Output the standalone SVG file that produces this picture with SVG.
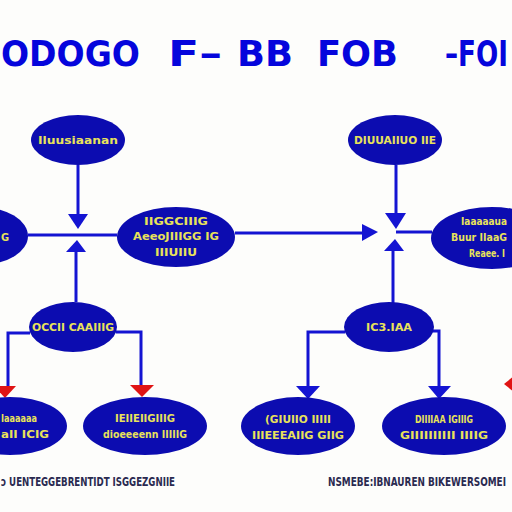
<svg xmlns="http://www.w3.org/2000/svg" width="512" height="512" viewBox="0 0 512 512">
<defs>
<style>
.bg{fill:#fdfdfb}
.node{fill:#0c0cb0}
.lbl{fill:#e8e25a;font-family:"DejaVu Sans Condensed","DejaVu Sans","Liberation Sans",sans-serif;font-weight:bold;font-size:11px;text-anchor:middle}
.st{text-anchor:start}
.title{fill:#0505dc;font-family:"DejaVu Sans","Liberation Sans",sans-serif;font-weight:bold;font-size:36px}
.foot{fill:#2a2a50;font-family:"DejaVu Sans Condensed","DejaVu Sans","Liberation Sans",sans-serif;font-weight:bold;font-size:12px}
.ln{stroke:#1414d2;stroke-width:3;fill:none}
.ah{fill:#1414d2}
.ahr{fill:#e01414}
</style>
</defs>
<rect class="bg" x="0" y="0" width="512" height="512"/>
<g id="title">
<text class="title" x="1" y="66" textLength="139" lengthAdjust="spacingAndGlyphs">ODOGO</text>
<text class="title" x="168" y="66" textLength="54" lengthAdjust="spacingAndGlyphs">F–</text>
<text class="title" x="237" y="66" textLength="56" lengthAdjust="spacingAndGlyphs">BB</text>
<text class="title" x="317" y="66" textLength="81" lengthAdjust="spacingAndGlyphs">FOB</text>
<text class="title" x="445" y="66" textLength="63" lengthAdjust="spacingAndGlyphs">–FOI</text>
</g>
<g id="connectors">
<path class="ln" d="M78 165 V222"/>
<polygon class="ah" points="68,214 88,214 78,229"/>
<path class="ln" d="M28 235 H117"/>
<path class="ln" d="M76 302 V248"/>
<polygon class="ah" points="66,252 86,252 77,240"/>
<path class="ln" d="M235 233 H366"/>
<polygon class="ah" points="362,224 362,241 378,232"/>
<path class="ln" d="M396 165 V222"/>
<polygon class="ah" points="385,213 406,213 396,229"/>
<path class="ln" d="M396 232 H432"/>
<path class="ln" d="M393 303 V248"/>
<polygon class="ah" points="384,251 404,251 395,239"/>
<path class="ln" d="M30 333 H8 V388"/>
<polygon class="ahr" points="-6,386 16,386 5,398"/>
<path class="ln" d="M116 332 H141 V386"/>
<polygon class="ahr" points="130,385 154,385 142,397"/>
<path class="ln" d="M345 332 H308 V388"/>
<polygon class="ah" points="296,386 320,386 308,399"/>
<path class="ln" d="M433 331 H439 V388"/>
<polygon class="ah" points="428,386 451,386 439,399"/>
<polygon class="ahr" points="504,384 514,376 514,392"/>
</g>
<g id="n-topleft"><ellipse class="node" cx="78" cy="140" rx="47" ry="25"/><text class="lbl" x="78" y="144" textLength="80" lengthAdjust="spacingAndGlyphs">Iluusiaanan</text></g>
<g id="n-left"><ellipse class="node" cx="-20" cy="236" rx="48" ry="29"/><text class="lbl st" x="1" y="241">G</text></g>
<g id="n-center"><ellipse class="node" cx="176" cy="237" rx="59" ry="30"/>
<text class="lbl" x="176" y="225" textLength="64" lengthAdjust="spacingAndGlyphs">IIGGCIIIG</text>
<text class="lbl" x="176" y="240" textLength="86" lengthAdjust="spacingAndGlyphs">AeeoJIIIGG IG</text>
<text class="lbl" x="176" y="256" textLength="42" lengthAdjust="spacingAndGlyphs">IIIUIIU</text></g>
<g id="n-topright"><ellipse class="node" cx="395" cy="140" rx="47" ry="25"/><text class="lbl" x="395" y="144" textLength="82" lengthAdjust="spacingAndGlyphs">DIUUAIIUO IIE</text></g>
<g id="n-right"><ellipse class="node" cx="492" cy="238" rx="61" ry="31"/>
<text class="lbl st" x="461" y="225" textLength="46" lengthAdjust="spacingAndGlyphs">Iaaaaaua</text>
<text class="lbl st" x="451" y="241" textLength="56" lengthAdjust="spacingAndGlyphs">Buur IIaaG</text>
<text class="lbl st" x="469" y="257" textLength="36" lengthAdjust="spacingAndGlyphs">Reaee. I</text></g>
<g id="n-midleft"><ellipse class="node" cx="73" cy="327" rx="44" ry="25"/><text class="lbl" x="73" y="331" textLength="82" lengthAdjust="spacingAndGlyphs">OCCII CAAIIIG</text></g>
<g id="n-midright"><ellipse class="node" cx="389" cy="327" rx="45" ry="25"/><text class="lbl" x="389" y="331" textLength="46" lengthAdjust="spacingAndGlyphs">IC3.IAA</text></g>
<g id="n-b1"><ellipse class="node" cx="10" cy="426" rx="57" ry="29"/>
<text class="lbl st" x="1" y="422" textLength="36" lengthAdjust="spacingAndGlyphs">Iaaaaaa</text>
<text class="lbl st" x="1" y="438" textLength="48" lengthAdjust="spacingAndGlyphs">aII ICIG</text></g>
<g id="n-b2"><ellipse class="node" cx="145" cy="426" rx="62" ry="29"/>
<text class="lbl" x="145" y="422" textLength="60" lengthAdjust="spacingAndGlyphs">IEIIEIIGIIIG</text>
<text class="lbl" x="145" y="438" textLength="84" lengthAdjust="spacingAndGlyphs">dioeeeenn IIIIIG</text></g>
<g id="n-b3"><ellipse class="node" cx="298" cy="426" rx="57" ry="29"/>
<text class="lbl" x="298" y="423" textLength="66" lengthAdjust="spacingAndGlyphs">(GIUIIO IIIII</text>
<text class="lbl" x="298" y="439" textLength="92" lengthAdjust="spacingAndGlyphs">IIIEEEAIIG GIIG</text></g>
<g id="n-b4"><ellipse class="node" cx="444" cy="426" rx="62" ry="29"/>
<text class="lbl" x="444" y="423" textLength="58" lengthAdjust="spacingAndGlyphs">DIIIIAA IGIIIG</text>
<text class="lbl" x="444" y="439" textLength="88" lengthAdjust="spacingAndGlyphs">GIIIIIIIIII IIIIG</text></g>
<g id="footer">
<text class="foot" x="1" y="486" textLength="174" lengthAdjust="spacingAndGlyphs">ɔ UENTEGGEBRENTIDT ISGGEZGNIIE</text>
<text class="foot" x="328" y="486" textLength="178" lengthAdjust="spacingAndGlyphs">NSMEBE:IBNAUREN  BIKEWERSOMEI</text>
</g>
</svg>
